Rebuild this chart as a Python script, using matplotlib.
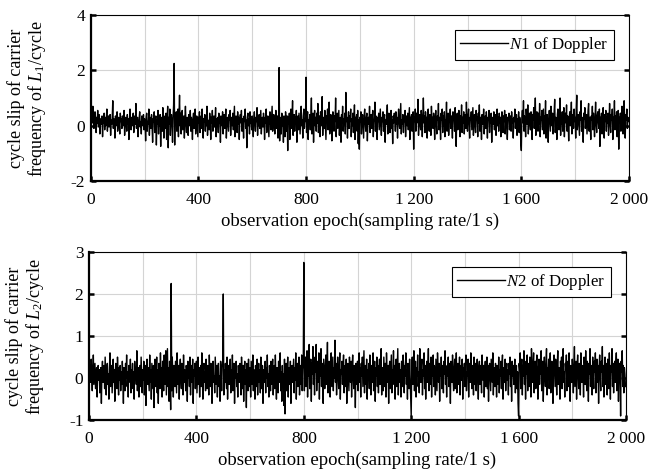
import matplotlib
matplotlib.use("Agg")
import matplotlib.pyplot as plt
from matplotlib.ticker import MultipleLocator, FixedLocator

plt.rcParams['font.family'] = ['Liberation Serif', 'DejaVu Serif']
plt.rcParams['mathtext.fontset'] = 'custom'
plt.rcParams['mathtext.rm'] = 'Liberation Serif'
plt.rcParams['mathtext.it'] = 'Liberation Serif:italic'
plt.rcParams['axes.unicode_minus'] = False

step = 2
n1_values = [
    .6, .3, .45, .1, .7, .2, -.1, .35, .5, .15, -.25, .3, .1, .55, -.05, .2, .4, -.3, .15, .25,
    .05, .35, -.4, .2, .1, .45, -.15, .3, .0, .25, .6, -.2, .15, .35, -.05, .1, .4, -.35, .2, .05,
    .3, .9, -.1, .25, .15, -.45, .35, .0, .2, .5, -.2, .1, .3, .05, -.3, .45, .15, .25, -.1, .35,
    .0, .2, .55, -.35, .1, .3, .15, -.2, .4, .05, .25, -.5, .2, .6, .1, -.15, .3, .0, .2, .45,
    -.25, .15, .35, .05, .8, -.1, .2, .3, -.4, .1, .25, .5, -.05, .15, -.3, .35, .2, .0, .4, -.15,
    .25, .1, -.55, .3, .45, -.2, .15, .05, .6, -.35, .2, .3, -.1, .4, .0, -.6, .25, .15, .5, -.25,
    .1, .35, -.7, .2, .05, .55, -.3, .25, .0, .4, -.75, .15, .3, -.2, .65, .1, -.45, .2, .35, -.1,
    .45, -.5, .2, .7, -.8, .3, .05, .6, -.35, .2, .4, .1, -.6, .3, .75, 2.25, -.7, .35, .1, .5,
    -.2, .25, .6, -.4, .3, 1.1, .0, .45, -.3, .2, .55, -.15, .1, .35, -.45, .25, .7, .05, -.25, .3,
    .15, -.35, .4, .2, .0, .55, -.2, .3, .1, -.5, .25, .45, -.1, .2, .6, -.3, .15, .35, .0, -.4,
    .3, .1, .5, -.25, .2, .35, -.1, .6, .05, -.45, .25, .15, .4, -.2, .3, .0, .7, -.35, .2, .1,
    -.15, .45, .25, -.5, .3, .1, .55, -.2, .2, .35, -.05, .15, .65, -.4, .25, .05, .3, -.25, .45, .1,
    .2, -.6, .35, .15, .0, .5, -.3, .25, .4, -.1, .2, .6, -.45, .1, .3, .05, -.2, .4, .2, .55,
    -.35, .15, .3, .0, .45, -.15, .25, .7, -.4, .1, .35, .2, -.25, .5, .05, .3, -.5, .2, .4, .1,
    .55, -.2, .25, .05, -.45, .35, .15, .6, -.1, .2, -.8, .3, .45, .0, .25, -.3, .5, .1, .2, -.15,
    .35, .05, -.4, .25, .5, .1, -.2, .3, .15, .65, -.35, .2, .0, .4, -.1, .25, .55, -.3, .15, .3,
    -.05, .45, .2, -.5, .3, .1, .6, -.25, .2, .35, .0, -.4, .25, .5, .1, -.15, .3, .7, -.2, .15,
    .4, .05, -.3, .25, .55, -.1, .2, .35, -.45, .1, 2.1, -.55, .3, .15, -.3, .45, .0, .25, -.6, .35,
    .1, -.4, .5, .2, -.2, .35, -.9, .3, .05, .45, -.5, .2, .6, -.1, .25, .9, -.35, .15, .4, -.2,
    .3, .05, .55, -.6, .2, .35, -.15, .45, .1, -.3, .25, .7, .0, .2, -.45, .35, .6, -.1, .25, .15,
    1.75, -.25, .3, .5, -.5, .2, .05, .4, -.15, .35, 1.0, -.3, .15, .45, -.6, .25, .55, .0, .3, -.2,
    .45, .1, .8, -.25, .2, .35, -.4, .5, .15, .0, 1.05, -.35, .3, .2, -.1, .55, .05, -.5, .35, .2,
    .6, -.15, .25, .85, -.3, .1, .4, .2, -.55, .3, .5, .05, -.2, .35, .15, 1.0, -.4, .25, .45, -.1,
    .2, .55, -.35, .15, .3, -.6, .4, .1, .7, -.2, .25, .05, .45, -.3, 1.2, .15, .3, -.45, .2, .5,
    -.1, .35, .15, .6, -.4, .25, .0, .45, -.25, .2, .75, -.5, .3, .1, .4, -.2, .55, -.65, .2, -.85,
    .3, .15, .5, -.3, .2, .4, .0, -.45, .35, .6, .1, -.2, .25, .45, -.55, .15, .3, .05, .7, -.25,
    .2, .4, -.1, .3, .55, -.4, .15, .25, .85, -.2, .35, .05, -.5, .3, .15, .45, -.15, .25, .6, .0,
    -.35, .3, .15, .5, -.2, .25, .4, -.6, .2, .05, .35, .75, -.3, .15, .45, .1, -.25, .3, .55, -.1,
    .2, -.65, .35, .1, .45, .25, -.2, .5, .05, .3, -.45, .2, .6, .15, -.1, .35, .8, -.3, .2, .05,
    .4, -.25, .3, .15, .55, -.4, .2, .35, .0, .45, -.15, .25, .65, -.5, .3, .1, .4, -.2, .25, .5,
    -.85, .3, .15, .6, -.2, .45, .1, .25, .95, -.35, .2, .4, .05, -.15, .55, .3, -.4, .2, 1.0, .1,
    .35, -.25, .5, .15, .3, -.45, .2, .6, .05, -.2, .4, .25, -.35, .7, .1, .3, -.1, .45, .2, -.5,
    .25, .55, .05, -.3, .35, .2, .8, -.15, .3, .1, -.5, .45, .2, .6, -.25, .35, .0, .5, -.4, .2,
    .15, .85, -.2, .3, .45, -.35, .1, .25, .6, -.1, .35, .05, -.45, .5, .2, .3, -.2, .65, .1, -.75,
    .3, .45, -.15, .25, .55, .05, -.4, .35, .2, .75, -.25, .3, .1, .5, -.3, .2, .4, -.1, .85, .15,
    -.2, .35, .6, .1, -.45, .3, .2, .5, -.15, .25, .65, -.35, .15, .4, .0, -.25, .55, .2, .3, -.4,
    .45, .1, .75, -.2, .3, .15, -.5, .4, .25, .05, .6, -.3, .2, .35, -.1, .5, .15, -.45, .3, .2,
    .55, -.25, .35, .1, .45, -.6, .2, .3, .05, .5, -.15, .25, .4, -.35, .15, .6, .0, .3, -.2, .45,
    .1, .3, -.4, .2, .5, .05, -.25, .35, .15, .55, -.3, .2, .4, .0, -.5, .3, .25, .45, -.15, .2,
    .35, -.2, .5, .1, .25, -.45, .3, .15, .6, -.1, .2, .4, -.35, .25, .05, .5, -.25, .3, .15, -.6,
    -.9, .3, .55, .1, .9, -.2, .35, .15, -.4, .6, .25, .05, .75, -.3, .2, .45, .1, -.15, .5, .3,
    -.5, .4, .2, .65, -.1, .3, 1.0, -.35, .15, .5, .25, -.2, .45, .05, .8, -.4, .3, .2, .55, -.15,
    .25, .6, -.3, .35, .1, .9, -.45, .2, .4, .05, -.6, .3, .55, .15, -.2, .7, .25, .0, .45, -.3,
    .2, .5, .95, -.25, .3, .15, -.5, .4, .6, .1, -.15, .35, 1.0, -.35, .25, .05, .5, -.2, .3, .65,
    -.4, .2, .45, .1, .75, -.2, .35, .15, -.55, .3, .5, .0, .25, .85, -.3, .2, .4, -.1, .6, .15,
    .3, -.45, .55, 1.1, -.15, .25, .4, .05, -.35, .5, .2, .9, -.2, .3, .1, -.6, .45, .25, .65, -.1,
    .2, .4, -.3, .15, .55, .8, -.2, .3, .05, -.5, .35, .2, .7, -.15, .45, .1, -.4, .3, .85, .05,
    -.25, .35, .5, .15, -.1, .6, -.75, .3, .2, .45, -.3, .25, .65, .0, -.45, .4, .15, .55, -.2, .3,
    .1, .45, -.35, .25, .8, .05, -.25, .4, .2, .6, -.5, .3, .15, .9, -.15, .35, .05, .5, -.4, .2,
    .55, -.85, .3, .15, .45, -.2, .35, .7, .0, -.3, .25, .9, .1, -.45, .4, .2, .6, -.1, .3, .15,
]
n2_values = [
    .4, .15, .3, -.1, .45, .05, -.3, .2, .55, -.15, .1, .35, -.25, .0, .25, -.45, .15, .3, -.05, .2,
    -.35, .1, .25, -.6, .15, .4, -.1, .05, .3, -.25, .5, .0, -.4, .2, .35, -.15, .1, -.5, .25, .6,
    -.2, .1, .3, -.35, .05, .45, -.1, .2, -.55, .15, .35, .0, -.25, .5, .1, -.4, .25, -.05, .3, -.3,
    .15, -.15, .4, .05, -.6, .25, .1, -.3, .35, .0, .55, -.2, .15, -.45, .3, .1, -.1, .45, -.35, .2,
    .05, .35, -.25, .15, -.5, .4, .0, .2, -.15, .65, -.3, .1, .25, -.45, .05, .3, -.2, .5, .1, -.35,
    .2, -.05, .4, -.4, .15, .3, -.65, .1, .45, -.15, .25, .0, -.3, .55, -.1, .2, -.5, .35, .05, -.25,
    .3, -.7, .15, .45, -.2, .05, .5, -.35, .2, -.6, .35, .1, -.25, .6, -.05, .25, -.45, .4, .0, -.3,
    .55, -.15, .3, .65, -.4, .1, .7, -.2, .25, -.55, .4, .05, -.75, 2.25, -.3, .5, .1, -.45, .3, .15,
    -.2, .4, .05, -.35, .6, .15, -.15, .3, -.5, .2, .45, .0, -.25, .35, .1, -.4, .55, -.1, .2, .05,
    -.3, .3, .15, -.55, .4, .0, .25, -.2, .5, -.4, .1, .3, -.1, .45, -.6, .2, .05, .35, -.25, .15,
    .4, -.35, .1, .5, -.15, .25, -.45, .05, .3, -.2, .6, .0, -.5, .2, .35, -.1, .15, -.3, .45, .05,
    -.25, .3, .1, -.4, .55, .0, -.2, .35, .15, -.6, .25, .4, -.1, .05, -.35, .5, .2, -.15, .3, -.45,
    .15, .35, -.2, .05, -.55, .4, .1, -.3, .25, .45, 2.0, -.4, .2, -.1, .35, .05, -.25, .5, -.5, .15,
    .3, -.15, .1, .45, -.35, .2, -.05, .55, -.3, .15, .35, -.6, .25, .0, .4, -.2, .1, -.45, .3, .05,
    -.1, .35, .2, -.4, .5, .05, -.25, .3, -.55, .15, .4, -.15, .2, -.7, .35, .1, -.3, .45, .0, -.2,
    .25, -.45, .4, .1, -.15, .55, -.3, .2, .05, -.5, .3, .15, -.2, .45, -.4, .1, .35, -.1, .2, -.35,
    .5, .05, -.25, .3, -.6, .2, .15, -.1, .4, -.35, .25, .0, .55, -.2, .1, -.45, .3, .15, -.3, .4,
    -.15, .2, .45, -.4, .1, .3, -.25, .55, .0, -.5, .25, .1, -.35, .4, -.1, .2, .6, -.3, .15, -.55,
    .3, -.2, .1, -.65, .45, -.85, .2, .35, -.3, .05, .5, -.45, .25, .1, -.15, .4, -.6, .2, .3, -.1,
    .15, .45, -.35, .25, -.05, .6, -.5, .1, .35, -.2, .2, .5, -.4, .05, .3, -.15, .55, -.3, .2, .4,
    2.75, -.3, .25, .5, -.2, .1, .65, -.45, .3, .05, .8, -.25, .2, .45, -.55, .35, .1, .75, -.15, .25,
    -.4, .5, .15, .8, -.3, .2, .4, -.1, .6, -.5, .25, .05, .7, -.2, .35, .15, -.6, .45, .1, -.25,
    .3, .55, -.15, .2, .85, -.35, .1, .4, .05, -.45, .3, .6, -.2, .15, .5, -.3, .25, .0, .9, -.1,
    .35, -.4, .15, .5, .0, -.25, .3, .6, -.5, .2, .1, .4, -.15, .25, .55, -.35, .05, .3, -.2, .45,
    -.6, .2, .35, .05, -.3, .5, .15, -.1, .4, -.45, .25, .55, .0, -.25, .3, .1, -.7, .35, .2, -.15,
    .4, -.3, .15, .6, -.1, .25, -.45, .35, .05, .5, -.2, .2, .65, -.35, .1, .3, -.15, .45, -.5, .2,
    .05, .35, -.25, .55, .15, -.4, .3, .1, -.1, .6, -.3, .2, .4, -.55, .25, .05, .5, -.2, .3, -.35,
    .2, .45, -.15, .1, .7, -.4, .25, .05, -.3, .5, .15, -.2, .35, -.45, .6, .1, -.1, .3, -.6, .25,
    .4, -.25, .15, .55, -.35, .2, .05, .65, -.15, .3, -.5, .1, .45, -.2, .25, .7, -.4, .15, .35, -.1,
    .2, -.45, .4, .1, -.2, .55, .25, -.35, .3, .05, .6, -.15, .2, -.5, .35, .1, -.25, .45, .0, -.4,
    -.9, .3, .5, -.15, .2, .65, -.3, .1, .4, -.45, .25, .05, .55, -.2, .15, -.35, .7, .1, -.1, .3,
    .45, -.4, .2, .05, .6, -.25, .3, -.5, .15, .4, -.1, .25, .7, -.3, .1, .35, -.15, .5, -.45, .2,
    .05, .55, -.2, .3, .15, -.4, .45, .1, -.3, .6, .2, -.1, .35, -.55, .25, .05, .5, -.25, .3, .15,
    -.35, .4, .1, .65, -.15, .25, -.45, .3, .05, .5, -.2, .35, .15, -.6, .4, .2, -.1, .55, .0, -.3,
    .25, .45, -.25, .1, .6, -.35, .2, .35, -.15, .05, .5, -.4, .3, .15, -.05, .45, -.5, .25, .1, .35,
    -.2, .3, .55, -.3, .15, .05, .45, -.45, .2, .35, -.1, .6, .1, -.25, .3, .2, -.4, .5, .05, -.15,
    .35, -.3, .15, .45, .0, -.5, .25, .4, -.15, .3, .1, -.35, .55, .2, -.05, .3, -.45, .15, .4, -.2,
    .1, .5, -.25, .3, -.55, .2, .35, .05, -.3, .45, .15, -.1, .6, -.4, .25, .1, -.2, .35, .05, -.45,
    .3, .15, -.15, .5, -.35, .2, .05, .4, -.25, .3, .55, -.5, .15, .25, -.1, .45, -.3, .2, .35, -.05,
    .2, -.4, .35, .1, .5, -.2, .25, -.55, .4, .05, .3, -.15, .2, .45, -.35, .1, .3, -.25, .15, -.6,
    -.9, .35, .2, .6, -.25, .15, .45, -.4, .3, .05, .65, -.15, .25, -.5, .4, .1, .55, -.3, .2, .35,
    -.2, .5, .1, -.45, .7, .2, -.1, .35, .6, -.35, .15, .4, -.25, .3, .55, .05, -.5, .25, .45, -.15,
    .3, .1, .65, -.3, .2, .4, -.55, .15, .5, .05, -.2, .35, .7, -.4, .25, .1, .45, -.25, .3, .6,
    -.35, .2, .4, .05, -.6, .3, .55, .15, -.2, .45, .1, -.4, .3, .65, -.15, .25, .05, -.5, .4, .2,
    .5, -.25, .3, .7, -.1, .15, -.45, .35, .2, .55, -.3, .1, .4, -.2, .6, .05, -.55, .3, .25, -.1,
    .45, .15, -.35, .3, .75, -.2, .1, .4, -.5, .25, .55, .05, -.25, .35, .15, -.4, .6, .2, -.1, .3,
    .1, -.45, .5, .25, -.15, .65, .05, -.3, .4, .2, -.55, .35, .1, .7, -.2, .3, .15, -.4, .5, .05,
    -.25, .4, .15, .6, -.35, .2, .45, -.1, .3, -.6, .25, .55, .05, -.3, .4, .15, .75, -.2, .3, -.45,
    .2, .5, -.15, .35, .1, -.4, .45, .25, -.25, .6, .05, -.5, .3, .15, .7, -.2, .35, -.35, .2, .4,
    -.1, .3, .6, -.3, .15, .45, -.55, .2, .35, .05, -.9, .4, .15, .65, -.2, .3, -.35, .25, .1, -.2,
]
epochs = [i * step for i in range(len(n1_values))]

x_ticks = [0, 400, 800, 1200, 1600, 2000]
x_ticklabels = ['0', '400', '800', '1\u2009200', '1\u2009600', '2\u2009000']
y1_ticks = [-2, 0, 2, 4]
y2_ticks = [-1, 0, 1, 2, 3]
xlabel = 'observation epoch(sampling rate/1 s)'
ylabel1 = 'cycle slip of carrier\nfrequency of $\\mathit{L}_{1}$/cycle'
ylabel2 = 'cycle slip of carrier\nfrequency of $\\mathit{L}_{2}$/cycle'
legend1 = '$\\mathit{N}$1 of Doppler'
legend2 = '$\\mathit{N}$2 of Doppler'

fig = plt.figure(figsize=(6.67, 4.70), dpi=100)
ax1 = fig.add_axes([0.136, 0.615, 0.807, 0.353])
ax2 = fig.add_axes([0.1335, 0.106, 0.805, 0.358])

for ax, vals, yt, ylim, yl, lg in [
    (ax1, n1_values, y1_ticks, (-2, 4), ylabel1, legend1),
    (ax2, n2_values, y2_ticks, (-1, 3), ylabel2, legend2),
]:
    ax.plot(epochs, vals, color='black', linewidth=1.0, label=lg)
    ax.set_xlim(0, 2000)
    ax.set_ylim(*ylim)
    ax.xaxis.set_major_locator(FixedLocator(x_ticks))
    ax.set_xticklabels(x_ticklabels)
    ax.xaxis.set_minor_locator(MultipleLocator(200))
    ax.set_yticks(yt)
    ax.grid(True, which='both', color='#d4d4d4', linewidth=0.8)
    ax.set_axisbelow(True)
    ax.tick_params(which='major', direction='in', length=3.5, width=1.8,
                   labelsize=12.5, top=False, right=True)
    ax.tick_params(axis='x', which='major', pad=8)
    ax.tick_params(axis='y', which='major', pad=4)
    ax.tick_params(which='minor', direction='in', length=0, width=0)
    for s in ['left', 'bottom']:
        ax.spines[s].set_linewidth(1.6)
    for s in ['top', 'right']:
        ax.spines[s].set_linewidth(0.8)
    ax.set_xlabel(xlabel, fontsize=13.5, labelpad=3)
    ax.set_ylabel(yl, fontsize=13, linespacing=1.05)
    ax.yaxis.set_label_coords(-0.08, 0.5)
    leg = ax.legend(loc='upper right', fontsize=12.2, fancybox=False, framealpha=1,
                    edgecolor='black', handlelength=2.8, borderpad=0.3,
                    handletextpad=0.1, borderaxespad=0,
                    bbox_to_anchor=(0.972, 0.91))
    leg.get_frame().set_linewidth(0.8)

fig.savefig('out.png', dpi=100)
